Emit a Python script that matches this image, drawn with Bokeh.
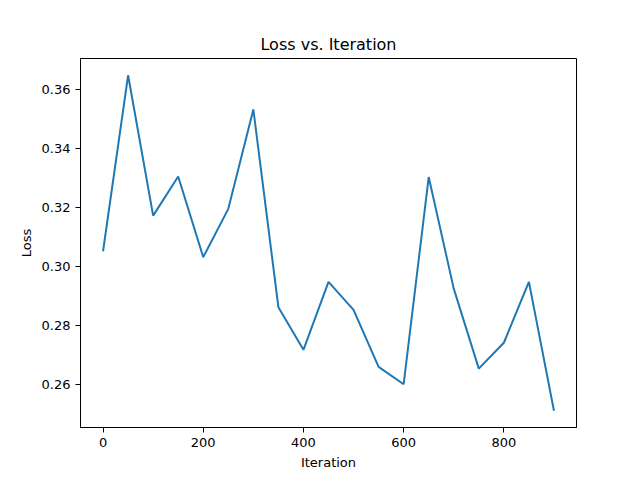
from bokeh.plotting import figure
from bokeh.embed import file_html
from bokeh.resources import INLINE
from bokeh.models import Range1d, FixedTicker

iterations = [0, 50, 100, 150, 200, 250, 300, 350, 400, 450, 500, 550, 600, 650, 700, 750, 800, 850, 900]
loss = [0.3052, 0.3650, 0.3173, 0.3306, 0.3032, 0.3196, 0.3534, 0.2862, 0.2717, 0.2948,
        0.2853, 0.2659, 0.2600, 0.3304, 0.2925, 0.2653, 0.2741, 0.2948, 0.2510]
x_ticks = [0, 200, 400, 600, 800]
y_ticks = [0.26, 0.28, 0.30, 0.32, 0.34, 0.36]

xmin, xmax = min(iterations), max(iterations)
ymin, ymax = min(loss), max(loss)
xm = (xmax - xmin) * 0.05
ym = (ymax - ymin) * 0.05

p = figure(width=640, height=480, output_backend="svg", toolbar_location=None,
           title="Loss vs. Iteration",
           x_range=Range1d(xmin - xm, xmax + xm), y_range=Range1d(ymin - ym, ymax + ym),
           min_border_left=80, min_border_right=64, min_border_top=58, min_border_bottom=53)
p.line(iterations, loss, line_color="#1f77b4", line_width=2)

font = "DejaVu Sans"
p.title.align = "center"
p.title.text_font = font
p.title.text_font_size = "16px"
p.title.text_font_style = "normal"
p.title.text_color = "black"
p.grid.visible = False
p.outline_line_color = "black"
p.outline_line_width = 1
p.background_fill_color = "white"
p.border_fill_color = "white"

for ax in (p.xaxis, p.yaxis):
    ax.axis_line_color = "black"
    ax.major_tick_line_color = "black"
    ax.major_tick_out = 5
    ax.major_tick_in = 0
    ax.minor_tick_line_color = None
    ax.major_label_text_font = font
    ax.major_label_text_font_size = "13px"
    ax.major_label_text_color = "black"
    ax.axis_label_text_font = font
    ax.axis_label_text_font_size = "13px"
    ax.axis_label_text_font_style = "normal"
    ax.axis_label_text_color = "black"

p.xaxis.ticker = FixedTicker(ticks=x_ticks)
p.yaxis.ticker = FixedTicker(ticks=y_ticks)
p.yaxis.major_label_overrides = {t: f"{t:.2f}" for t in y_ticks}
p.xaxis.axis_label = "Iteration"
p.yaxis.axis_label = "Loss"
p.xaxis.axis_label_standoff = 5
p.yaxis.axis_label_standoff = 5

open("out.html", "w").write(file_html(p, INLINE))
